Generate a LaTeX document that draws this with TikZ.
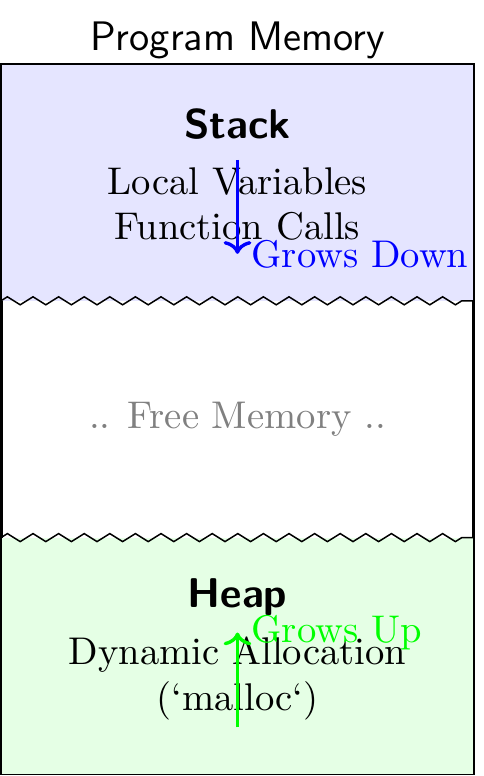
\documentclass[tikz,border=0pt]{standalone}
\usepackage{tikz}
\usetikzlibrary{arrows.meta,positioning,decorations.pathmorphing}
\tikzset{
  region/.style={rectangle, minimum width=4.434cm, minimum height=2.22cm,
                 inner sep=0pt, outer sep=0pt},
  title/.style={font=\sffamily\fontsize{11}{13.5}\selectfont, anchor=base},
  segname/.style={font=\sffamily\bfseries\fontsize{11.1}{13.5}\selectfont, anchor=base},
  segtext/.style={align=center, anchor=base},
  cut/.style={decorate, decoration={zigzag, segment length=0.24cm, amplitude=0.0375cm}},
  growarrow/.style={-{To[length=3.4pt, width=7.4pt]}, line width=0.9pt},
  growlabel/.style={right},
}
\begin{document}
\begin{tikzpicture}[every node/.style={font=\fontsize{10.3}{12.2}\selectfont}]
  \useasboundingbox (-0.0094,-6.675) rectangle (4.519,0.6);
  \node[region, fill=blue!10, anchor=north west] (stack) at (0,0) {};
  \node[region, below=0pt of stack] (free) {};
  \node[region, fill=green!10, below=0pt of free] (heap) {};
  % outline and cuts
  \draw (stack.south west) -- (stack.north west) -- (stack.north east) -- (stack.south east);
  \draw (heap.north west) -- (heap.south west) -- (heap.south east) -- (heap.north east);
  \draw[thick] (free.north west) -- (free.south west);
  \draw[thick] (free.north east) -- (free.south east);
  \draw[cut] (stack.south west) -- (stack.south east);
  \draw[cut] (heap.north west) -- (heap.north east);

  \node[title] (ttl) at ([yshift=1.31mm]stack.north) {Program Memory};
  \node[segname] (stk) at ([yshift=-6.94mm]stack.north) {Stack};
  \node[segtext] (stktxt) at ([yshift=-16.5mm]stack.north) {Local Variables\\Function Calls};
  \node[text=gray] (fre) at (free.center) {.. Free Memory ..};
  \node[segname] (hp) at ([yshift=-6.56mm]heap.north) {Heap};
  \node[segtext] (hptxt) at ([yshift=-16.22mm]heap.north) {Dynamic Allocation\\(`malloc`)};

  % growth arrows
  \coordinate (sgtop) at ([yshift=-9mm]stack.north);
  \coordinate (sgbot) at ([yshift=-17.8mm]stack.north);
  \draw[growarrow, blue] (sgtop) -- (sgbot) node[growlabel] (sglab) {Grows Down};
  \coordinate (hgbot) at ([yshift=-17.8mm]heap.north);
  \coordinate (hgtop) at ([yshift=-8.9mm]heap.north);
  \draw[growarrow, green] (hgbot) -- (hgtop) node[growlabel] (hglab) {Grows Up};
\end{tikzpicture}
\end{document}
